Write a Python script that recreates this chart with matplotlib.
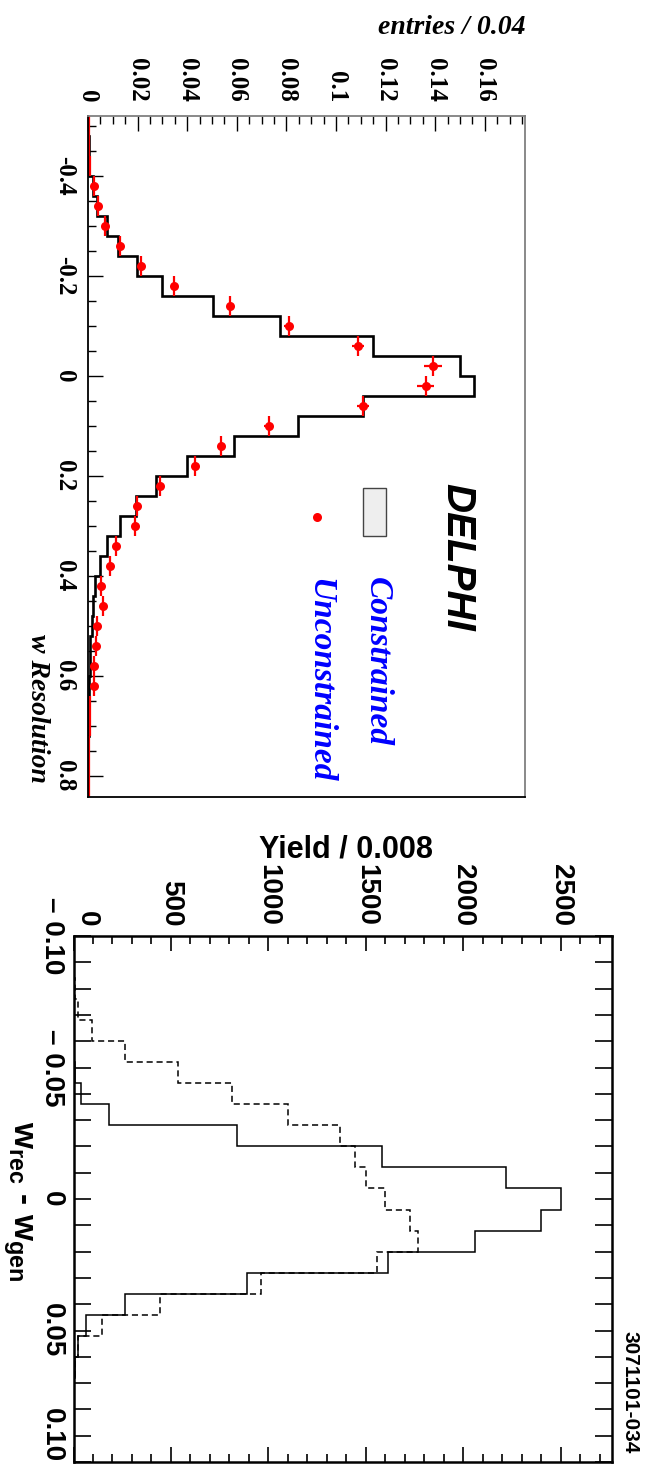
import numpy as np
import matplotlib
matplotlib.use('Agg')
import matplotlib.pyplot as plt
from matplotlib.patches import Rectangle
from matplotlib.lines import Line2D
from matplotlib.ticker import MultipleLocator

plt.rcParams['mathtext.fontset'] = 'custom'
plt.rcParams['mathtext.rm'] = 'Liberation Sans:bold'
plt.rcParams['mathtext.bf'] = 'Liberation Sans:bold'
plt.rcParams['mathtext.it'] = 'Liberation Sans:bold'

# ---------------- top panel data (DELPHI) ----------------
top_edges = np.round(np.arange(-0.52, 0.84 + 1e-9, 0.04), 2)
constrained = [0.0002, 0.0003, 0.0006, 0.0021, 0.0035, 0.0078, 0.0120, 0.0199,
               0.0299, 0.0502, 0.0773, 0.1150, 0.1499, 0.1557, 0.1108, 0.0846,
               0.0588, 0.0399, 0.0274, 0.0194, 0.0128, 0.0075, 0.0050, 0.0028,
               0.0020, 0.0015, 0.0010, 0.0007, 0.0005, 0.0004, 0.0003, 0.0002,
               0.0002, 0.0001]

unc_w = [-0.38, -0.34, -0.30, -0.26, -0.22, -0.18, -0.14, -0.10, -0.06, -0.02,
         0.02, 0.06, 0.10, 0.14, 0.18, 0.22, 0.26, 0.30, 0.34, 0.38, 0.42, 0.46,
         0.50, 0.54, 0.58, 0.62]
unc_val = [0.0024, 0.0041, 0.0070, 0.0128, 0.0214, 0.0347, 0.0572, 0.0809,
           0.1088, 0.1391, 0.1361, 0.1108, 0.0729, 0.0538, 0.0430, 0.0291,
           0.0199, 0.0188, 0.0113, 0.0090, 0.0053, 0.0060, 0.0038, 0.0032,
           0.0023, 0.0023]
unc_err = [0, 0, 0, 0, 0, 0, 0.0012, 0.0018, 0.0025, 0.0035,
           0.0035, 0.0025, 0.0018, 0.0012, 0, 0, 0, 0, 0, 0, 0, 0,
           0, 0, 0, 0]
tail_w = [-0.50, -0.46, -0.42, 0.66, 0.70, 0.74, 0.78, 0.82]
tail_val = [0.0004, 0.0005, 0.0009, 0.0010, 0.0008, 0.0006, 0.0005, 0.0004]

top_xticks = [0, 0.02, 0.04, 0.06, 0.08, 0.10, 0.12, 0.14, 0.16]
top_xlabels = ['0', '0.02', '0.04', '0.06', '0.08', '0.1', '0.12', '0.14', '0.16']
top_yticks = [-0.4, -0.2, 0.0, 0.2, 0.4, 0.6, 0.8]
top_ylabels = ['-0.4', '-0.2', '0', '0.2', '0.4', '0.6', '0.8']

# ---------------- bottom panel data ----------------
bot_edges = np.round(np.arange(-0.100, 0.100 + 1e-9, 0.008), 3)
solid = [0, 0, 0, 2, 3, 5, 8, 40, 184, 841, 1583, 2218, 2498, 2398, 2059,
         1614, 890, 265, 64, 21, 8, 3, 1, 0, 0]
dashed = [0, 4, 10, 25, 93, 265, 538, 814, 1100, 1367, 1445, 1498, 1597,
          1725, 1769, 1555, 962, 443, 146, 21, 8, 3, 1, 0, 0]

bot_xticks = [0, 500, 1000, 1500, 2000, 2500]
bot_xlabels = ['0', '500', '1000', '1500', '2000', '2500']
bot_yticks = [-0.10, -0.05, 0.0, 0.05, 0.10]
bot_ylabels = ['\u2013 0.10', '\u2013 0.05', '0', '0.05', '0.10']

W, H = 646, 1473
fig = plt.figure(figsize=(W / 100, H / 100), dpi=100)


def fx(px):
    return px / W


def fy(py):
    return 1 - py / H


serif_bi = dict(family='Liberation Serif', weight='bold', style='italic')
serif_b = dict(family='Liberation Serif', weight='bold')
sans_b = dict(family='Liberation Sans', weight='bold')

# ================= top axes =================
ax1 = fig.add_axes([fx(88), fy(797), (525 - 88) / W, (797 - 116) / H])
ax1.stairs(constrained, top_edges, orientation='horizontal', color='black', lw=1.9)
ax1.errorbar(tail_val, tail_w, yerr=0.02, fmt='none', ecolor='red', elinewidth=1.6, clip_on=True)
ax1.errorbar(unc_val, unc_w, xerr=unc_err, yerr=0.02, fmt='o', color='red',
             ms=6.5, mew=0, elinewidth=1.6, capsize=0)
ax1.set_xlim(0, 0.1762)
ax1.set_ylim(0.842, -0.52)

ax1.xaxis.tick_top()
ax1.set_xticks(top_xticks, top_xlabels)
ax1.xaxis.set_minor_locator(MultipleLocator(0.005))
ax1.set_yticks(top_yticks, top_ylabels)
ax1.yaxis.set_minor_locator(MultipleLocator(0.05))
ax1.tick_params(axis='x', which='both', direction='in', top=True, bottom=False,
                labeltop=True, labelbottom=False, labelrotation=-90, pad=10, color='black')
ax1.tick_params(axis='x', which='major', length=11, width=1)
ax1.tick_params(axis='x', which='minor', length=6, width=1)
ax1.tick_params(axis='y', which='both', direction='in', left=True, right=False,
                labelrotation=-90, pad=8.5)
ax1.tick_params(axis='y', which='major', length=11, width=1)
ax1.tick_params(axis='y', which='minor', length=6, width=1)
for lbl in ax1.get_xticklabels():
    lbl.set(ha='center', va='bottom', fontsize=18, **serif_b)
for lbl in ax1.get_yticklabels():
    lbl.set(ha='right', va='center', fontsize=18, **serif_b)
for s in ['top', 'right']:
    ax1.spines[s].set_color('#808080')
    ax1.spines[s].set_linewidth(1.3)
for s in ['left', 'bottom']:
    ax1.spines[s].set_color('black')
    ax1.spines[s].set_linewidth(1.3)

fig.text(fx(525), fy(34), 'entries / 0.04', ha='right', va='baseline', fontsize=20, **serif_bi)
fig.text(fx(37), fy(783), 'w Resolution', rotation=-90, ha='center', va='bottom',
         fontsize=20, **serif_bi)
fig.text(fx(457), fy(483), 'DELPHI', rotation=-90, ha='center', va='top', fontsize=29,
         family='Liberation Sans', weight='bold', style='italic')
fig.text(fx(377), fy(577), 'Constrained', rotation=-90, ha='center', va='top', fontsize=24,
         color='#0000ff', **serif_bi)
fig.text(fx(320), fy(578), 'Unconstrained', rotation=-90, ha='center', va='top', fontsize=24,
         color='#0000ff', **serif_bi)
fig.add_artist(Rectangle((fx(363), fy(536)), (386 - 363) / W, (536 - 488) / H,
                         transform=fig.transFigure, facecolor='#eeeeee',
                         edgecolor='#444444', lw=1))
fig.add_artist(Line2D([fx(317)], [fy(517)], marker='o', color='red', ms=6.5, mew=0,
                      transform=fig.transFigure))

# ================= bottom axes =================
ax2 = fig.add_axes([fx(73.5), fy(1462), (612 - 73.5) / W, (1462 - 936) / H])
ax2.stairs(solid, bot_edges, orientation='horizontal', color='black', lw=1.1)
ax2.stairs(dashed, bot_edges, orientation='horizontal', color='black', lw=1.1,
           linestyle=(0, (4, 2.5)))
ax2.set_xlim(0, 2762)
ax2.set_ylim(0.1, -0.1)

ax2.xaxis.tick_top()
ax2.set_xticks(bot_xticks, bot_xlabels)
ax2.xaxis.set_minor_locator(MultipleLocator(100))
ax2.set_yticks(bot_yticks, bot_ylabels)
ax2.yaxis.set_minor_locator(MultipleLocator(0.01))
ax2.tick_params(axis='x', which='both', direction='in', top=True, bottom=True,
                labeltop=True, labelbottom=False, labelrotation=-90, pad=7)
ax2.tick_params(axis='x', which='major', length=11, width=1.2)
ax2.tick_params(axis='x', which='minor', length=5.5, width=1.2)
ax2.tick_params(axis='y', which='both', direction='in', left=True, right=True,
                labelrotation=-90, pad=6, length=12, width=1.2)
xl = ax2.get_xticklabels()
for lbl in xl:
    lbl.set(ha='center', va='bottom', fontsize=20, **sans_b)
xl[0].set_ha('left')
yl = ax2.get_yticklabels()
for lbl in yl:
    lbl.set(ha='right', va='center', fontsize=20, **sans_b)
yl[-1].set_va('bottom')
for s in ax2.spines.values():
    s.set_color('black')
    s.set_linewidth(1.8)

fig.text(fx(346), fy(857), 'Yield / 0.008', ha='center', va='baseline', fontsize=22, **sans_b)
fig.text(fx(17), fy(1201), r'$\mathrm{w_{rec}}$ - $\mathrm{w_{gen}}$', rotation=-90,
         ha='center', va='center', fontsize=24, **sans_b)
fig.text(fx(630), fy(1453), '3071101-034', rotation=-90, ha='center', va='bottom',
         fontsize=15, **sans_b)

fig.savefig('out.png', dpi=100)
